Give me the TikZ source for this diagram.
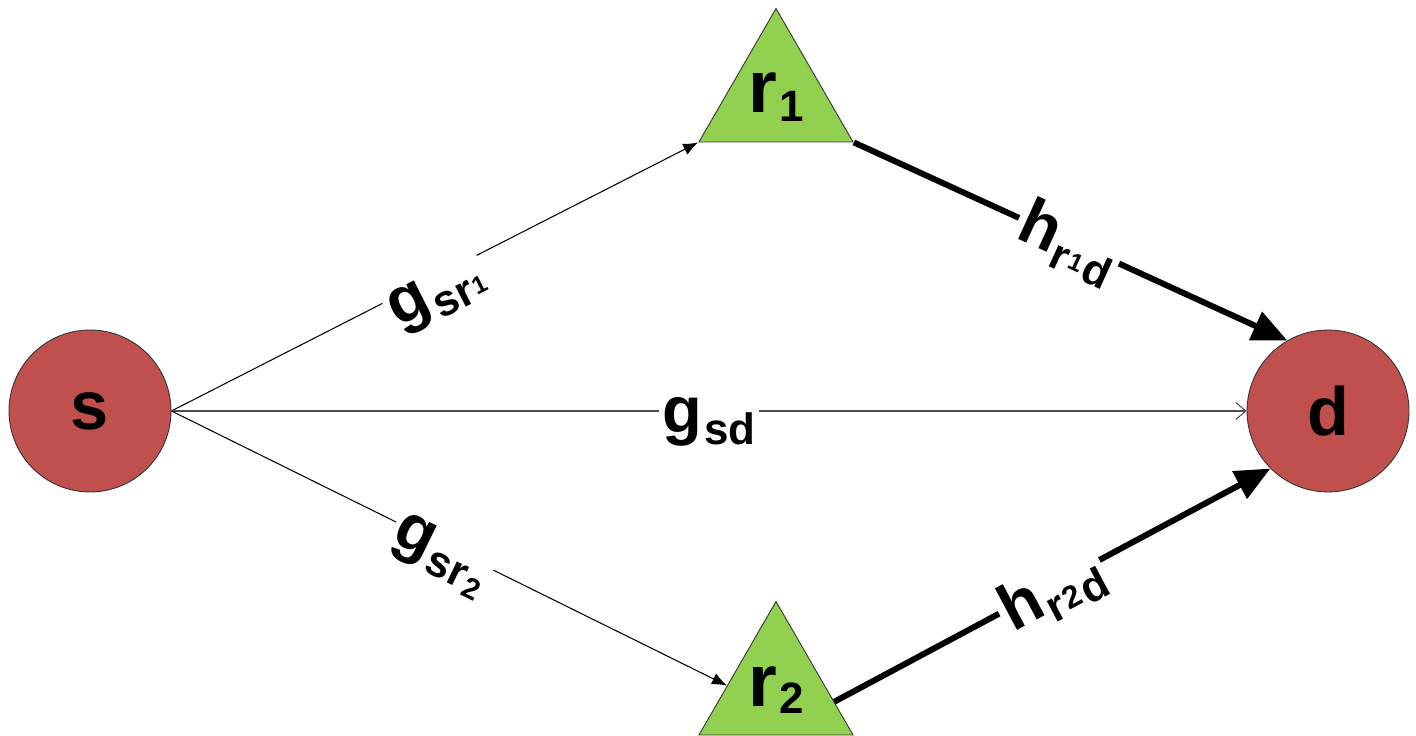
\documentclass[tikz,border=0pt]{standalone}
\usepackage{fontspec}
\setmainfont{Liberation Sans}
\usetikzlibrary{arrows.meta,shapes.geometric,calc,positioning}

\definecolor{nodered}{HTML}{C0504D}
\definecolor{relaygreen}{HTML}{92D050}

\newcommand{\bigtxt}{\fontsize{37}{37}\selectfont\bfseries}
\newcommand{\subtxt}{\fontsize{25}{25}\selectfont\bfseries}
\newcommand{\tinytxt}{\fontsize{14}{14}\selectfont\bfseries}

\begin{document}
\begin{tikzpicture}[x=0.02cm, y=0.02cm,
    endnode/.style={circle, draw=black!80, line width=0.5pt, fill=nodered, minimum size=3.24cm, inner sep=0pt, font=\fontsize{39}{39}\selectfont\bfseries},
    relay/.style={regular polygon, regular polygon sides=3, draw=black!80, line width=0.5pt, fill=relaygreen, minimum size=3.56cm, inner sep=0pt},
    relaytxt/.style={font=\fontsize{42}{42}\selectfont\bfseries, inner sep=0pt},
    thinlink/.style={line width=0.6pt, -{Latex[length=0.3cm,width=0.24cm]}},
    directlink/.style={line width=0.6pt, black!70, -{Straight Barb[length=0.2cm,width=0.34cm]}},
    thicklink/.style={line width=3.4pt, -{Triangle[length=0.7cm,width=0.6cm]}},
    chan/.style={fill=white, inner sep=2pt}]
    \useasboundingbox (0,0) rectangle (1416,736);

    % source and destination
    \node[endnode] (s) at (90,325) {s};
    \node[endnode] (d) at (1328,325) {d};

    % the two relays
    \node[relay, label={[relaytxt]center:r\kern1pt\raisebox{-5pt}{\fontsize{25}{25}\selectfont 1}}] (r1) at (776,638.5) {};
    \node[relay, label={[relaytxt]center:r\kern1pt\raisebox{-4pt}{\fontsize{25}{25}\selectfont 2}}] (r2) at (776,45.5) {};

    % points on the sides of r2
    \coordinate (r2in) at ($(r2.corner 1)!0.63!(r2.corner 2)$);
    \coordinate (r2out) at ($(r2.corner 1)!0.75!(r2.corner 3)$);

    % first hop
    \draw[thinlink] (s.east) -- (r1.corner 2);
    \draw[directlink] (s.east) -- (d.west);
    \draw[thinlink] (s.east) -- (r2in);

    % second hop
    \draw[thicklink] (r1.corner 3) -- (d.120);
    \draw[thicklink] (r2out) -- (d.225);

    % channel labels
    \node[chan, rotate=27] (gsr1) at (438,440) {\bigtxt g\kern1pt\raisebox{-7pt}{\subtxt sr\kern1pt\raisebox{3pt}{\tinytxt 1}}};
    \node[chan] (gsd) at (709,314) {\bigtxt g\kern1pt\raisebox{-7pt}{\subtxt sd}};
    \node[chan, rotate=-26] (gsr2) at (440,180) {\bigtxt g\kern1pt\raisebox{-7pt}{\subtxt sr\kern1pt\raisebox{-3pt}{\fontsize{17}{17}\selectfont 2}}};
    \node[chan, rotate=-24.5] (hr1d) at (1068,493) {\bigtxt h\kern1pt\raisebox{-7pt}{\subtxt r\kern1pt\raisebox{4pt}{\tinytxt 1}\kern1pt d}};
    \node[chan, rotate=28] (hr2d) at (1052,144) {\bigtxt h\kern1pt\raisebox{-7pt}{\subtxt r\kern1pt\raisebox{3pt}{\fontsize{18}{18}\selectfont 2}\kern1pt d}};
\end{tikzpicture}
\end{document}
